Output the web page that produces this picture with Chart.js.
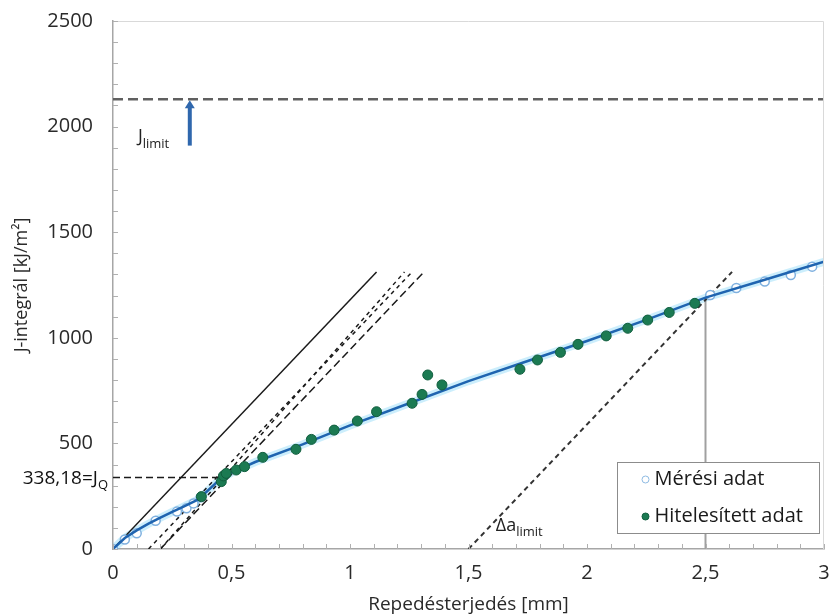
<!DOCTYPE html>
<html lang="hu">
<head>
<meta charset="utf-8">
<title>J-integrál</title>
<script src="https://cdn.jsdelivr.net/npm/chart.js@4.4.0/dist/chart.umd.min.js"></script>
<style>
  body { margin: 0; background: #fff; }
  canvas { display: block; }
</style>
</head>
<body>
<canvas id="chart" width="830" height="616"></canvas>
<script>
// measured points (open circles)
const measX = [0, 0.05, 0.10, 0.18, 0.27, 0.31, 0.34, 0.37, 2.52, 2.63, 2.75, 2.86, 2.95];
const measY = [0, 45, 74, 134, 177, 193, 216, 245, 1203, 1236, 1266, 1297, 1337];

// validated points (filled green)
const validX = [0.373, 0.457, 0.466, 0.478, 0.52, 0.555, 0.632, 0.772, 0.837, 0.933, 1.031, 1.112,
                1.262, 1.304, 1.328, 1.388, 1.717, 1.791, 1.888, 1.962, 2.081, 2.172, 2.256, 2.347, 2.455];
const validY = [248, 319, 346, 358, 374, 390, 434, 472, 519, 563, 606, 650,
                690, 732, 824, 777, 851, 895, 931, 969, 1009, 1045, 1084, 1120, 1163];

// fitted R-curve
const fitX = [0, 0.05, 0.1, 0.15, 0.2, 0.25, 0.3, 0.36, 0.44, 0.5, 0.6, 0.8, 1.0, 1.25, 1.5, 1.75, 2.0, 2.25, 2.5, 2.75, 3.0];
const fitY = [0, 52, 88, 120, 148, 176, 202, 235, 318, 362, 412, 495, 585, 690, 795, 890, 985, 1085, 1190, 1275, 1360];

// construction lines [x0, y0, x1, y1]
const bluntLine = [0, 0, 1.112, 1312];
const offset015 = [0.15, 0, 1.262, 1312];
const offset02 = [0.2, 0, 1.312, 1312];
const qLine = [0.2, 0, 1.23, 1312];
const limitLine = [1.5, 0, 2.612, 1312];

const JQ = 338.18;
const JQx = 0.457;
const Jlimit = 2130;
const daLimit = 2.5;
const JatLimit = 1190;
const arrowX = 0.324, arrowFrom = 1910;

const xTicks = ['0', '0,5', '1', '1,5', '2', '2,5', '3'];
const yTicks = ['0', '500', '1000', '1500', '2000', '2500'];

const pts = (xs, ys) => xs.map((x, i) => ({ x: x, y: ys[i] }));
const seg = s => [{ x: s[0], y: s[1] }, { x: s[2], y: s[3] }];

function lineSet(data, color, width, dash, order) {
  return { type: 'line', data: data, borderColor: color, borderWidth: width, borderDash: dash || [],
           pointRadius: 0, fill: false, tension: 0, order: order };
}

const FONT = '"Open Sans", Lato, sans-serif';

// extra drawing: minor ticks, frame, labels, arrow, legend
const extras = {
  id: 'extras',
  afterDatasetsDraw(chart) {
    const { ctx, chartArea: a, scales: { x, y } } = chart;
    ctx.save();

    // frame top/right
    ctx.strokeStyle = '#d9d9d9';
    ctx.lineWidth = 1;
    ctx.beginPath();
    ctx.moveTo(a.left, a.top + 0.5); ctx.lineTo(a.right - 0.5, a.top + 0.5); ctx.lineTo(a.right - 0.5, a.bottom);
    ctx.stroke();

    // minor ticks
    ctx.strokeStyle = '#b0b0b0';
    ctx.beginPath();
    for (let v = 0; v <= 2500; v += 100) {
      const py = Math.round(y.getPixelForValue(v)) + 0.5;
      ctx.moveTo(a.left, py); ctx.lineTo(a.left + 5, py);
    }
    for (let i = 0; i <= 30; i++) {
      const px = Math.round(x.getPixelForValue(i / 10)) + 0.5;
      ctx.moveTo(px, a.bottom); ctx.lineTo(px, a.bottom - 5);
    }
    ctx.stroke();

    // arrow towards J_limit
    const ax = x.getPixelForValue(arrowX);
    const ay0 = y.getPixelForValue(arrowFrom);
    const ay1 = y.getPixelForValue(Jlimit);
    ctx.strokeStyle = '#2f67ad';
    ctx.fillStyle = '#2f67ad';
    ctx.lineWidth = 4;
    ctx.beginPath(); ctx.moveTo(ax, ay0); ctx.lineTo(ax, ay1 + 7); ctx.stroke();
    ctx.beginPath(); ctx.moveTo(ax - 5, ay1 + 9); ctx.lineTo(ax + 5, ay1 + 9); ctx.lineTo(ax, ay1 + 1); ctx.closePath(); ctx.fill();

    // text labels with subscripts
    ctx.fillStyle = '#222';
    ctx.textBaseline = 'alphabetic';
    function sub(main, s, px, py, size, align) {
      ctx.font = size + 'px ' + FONT;
      const w1 = ctx.measureText(main).width;
      ctx.font = Math.round(size * 0.7) + 'px ' + FONT;
      const w2 = ctx.measureText(s).width;
      let left = align === 'right' ? px - w1 - w2 : px;
      ctx.textAlign = 'left';
      ctx.font = size + 'px ' + FONT;
      ctx.fillText(main, left, py);
      ctx.font = Math.round(size * 0.7) + 'px ' + FONT;
      ctx.fillText(s, left + w1, py + size * 0.3);
    }
    sub('J', 'limit', x.getPixelForValue(0.105), y.getPixelForValue(1925), 18);
    sub('\u0394a', 'limit', x.getPixelForValue(1.615), y.getPixelForValue(85), 18);
    ctx.fillStyle = '#111';
    sub('338,18=J', 'Q', a.left - 5, y.getPixelForValue(JQ) + 6, 19, 'right');

    // legend
    const lx = 617.5, ly = 462.5, lw = 202, lh = 71;
    ctx.fillStyle = '#fff';
    ctx.fillRect(lx, ly, lw, lh);
    ctx.strokeStyle = '#8c8c8c';
    ctx.lineWidth = 1;
    ctx.strokeRect(lx, ly, lw, lh);
    const items = [
      { text: 'Mérési adat', fill: '#fff', stroke: '#8fbbe3' },
      { text: 'Hitelesített adat', fill: '#1b7a52', stroke: '#12603f' }
    ];
    ctx.font = '20px ' + FONT;
    ctx.textBaseline = 'middle';
    items.forEach((it, i) => {
      const cy = ly + 17 + i * 37;
      ctx.beginPath(); ctx.arc(lx + 28, cy, 3.5, 0, Math.PI * 2);
      ctx.fillStyle = it.fill; ctx.fill();
      ctx.strokeStyle = it.stroke; ctx.lineWidth = 1; ctx.stroke();
      ctx.fillStyle = '#1a1a1a';
      ctx.fillText(it.text, lx + 37, cy);
    });
    ctx.restore();
  }
};

new Chart(document.getElementById('chart'), {
  type: 'scatter',
  data: {
    datasets: [
      { label: 'Hitelesített adat', data: pts(validX, validY), pointRadius: 5, pointBackgroundColor: '#1b7a52',
        pointBorderColor: '#125e3e', pointBorderWidth: 1, showLine: false, order: 0 },
      lineSet(pts(fitX, fitY), '#1f64b0', 2.5, [], 1),
      lineSet(pts(fitX, fitY), 'rgba(110,205,245,0.35)', 8, [], 6),
      { label: 'Mérési adat', data: pts(measX, measY), pointRadius: 4.5, pointBackgroundColor: '#fff',
        pointBorderColor: '#7fb0df', pointBorderWidth: 1.5, showLine: false, order: 2 },
      lineSet(seg(bluntLine), '#1a1a1a', 1.5, [], 3),
      lineSet(seg(offset015), '#1a1a1a', 1.5, [4, 4], 3),
      lineSet(seg(offset02), '#1a1a1a', 1.5, [8, 4], 3),
      lineSet(seg(qLine), '#1a1a1a', 1.5, [4, 4], 3),
      lineSet(seg(limitLine), '#333', 2, [5, 4], 3),
      lineSet([{ x: 0, y: JQ }, { x: JQx, y: JQ }], '#1a1a1a', 1.5, [7, 4], 3),
      lineSet([{ x: 0, y: Jlimit }, { x: 3, y: Jlimit }], '#606060', 2.5, [10, 5], 3),
      lineSet([{ x: daLimit, y: 0 }, { x: daLimit, y: JatLimit }], '#a0a0a0', 2, [], 4)
    ]
  },
  options: {
    responsive: false,
    animation: false,
    layout: { padding: { top: 21, right: -3, left: 0, bottom: 0 } },
    plugins: { legend: { display: false }, tooltip: { enabled: false } },
    scales: {
      x: {
        type: 'linear', min: 0, max: 3,
        afterFit(s) { s.height = 67; s.paddingLeft = 0; s.paddingRight = 0; },
        afterBuildTicks(s) { s.ticks = xTicks.map((t, i) => ({ value: i * 0.5 })); },
        ticks: { callback: (v, i) => xTicks[i], font: { family: FONT, size: 20 }, color: '#2a2a2a', padding: 12, maxRotation: 0 },
        grid: { drawOnChartArea: false, drawTicks: false },
        border: { color: '#a6a6a6', width: 1.5 },
        title: { display: true, text: 'Repedésterjedés [mm]', font: { family: FONT, size: 19 }, color: '#2a2a2a', padding: { top: 0, bottom: 0 } }
      },
      y: {
        type: 'linear', min: 0, max: 2500,
        afterFit(s) { s.width = 113; s.paddingTop = 0; s.paddingBottom = 0; },
        afterBuildTicks(s) { s.ticks = yTicks.map((t, i) => ({ value: i * 500 })); },
        ticks: { callback: (v, i) => yTicks[i], font: { family: FONT, size: 20 }, color: '#2a2a2a', padding: 20 },
        grid: { drawOnChartArea: false, drawTicks: false },
        border: { color: '#a6a6a6', width: 1.5 },
        title: { display: true, text: 'J-integrál [kJ/m²]', font: { family: FONT, size: 18 }, color: '#2a2a2a', padding: { top: 11, bottom: 0 } }
      }
    }
  },
  plugins: [extras]
});
</script>
</body>
</html>
